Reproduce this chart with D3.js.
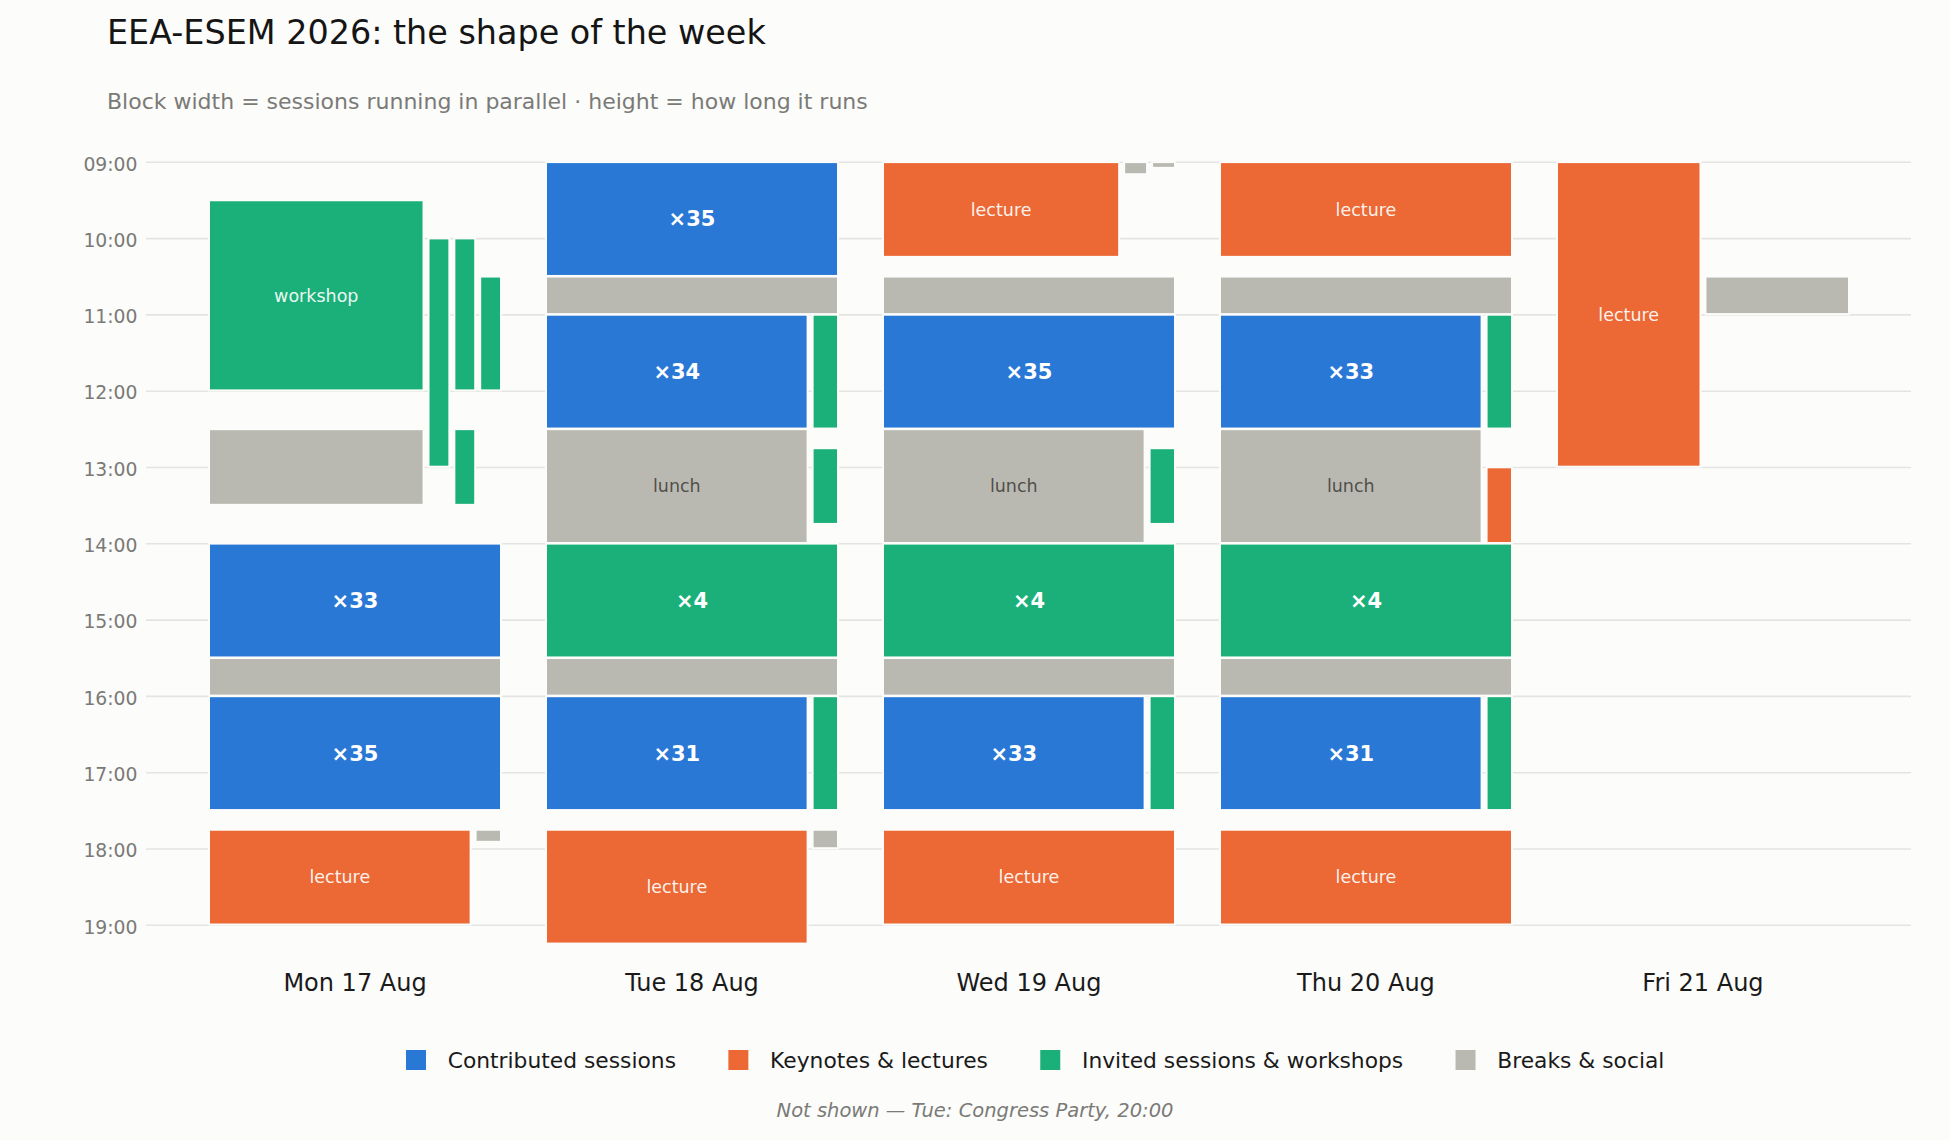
<!DOCTYPE html>
<html><head><meta charset="utf-8">
<script src="https://cdn.jsdelivr.net/npm/d3@7"></script>
<style>
html,body{margin:0;padding:0;background:#fcfcfb;}
svg{display:block;font-family:"DejaVu Sans",sans-serif;}
</style>
</head><body>
<svg id="chart" width="1950" height="1140"></svg>
<script>
// ---------------- data ----------------
const days = ["Mon 17 Aug", "Tue 18 Aug", "Wed 19 Aug", "Thu 20 Aug", "Fri 21 Aug"];
const categories = ["contrib", "keynote", "invited", "break"];
const categoryNames = ["Contributed sessions", "Keynotes & lectures", "Invited sessions & workshops", "Breaks & social"];
const hourTicks = ["09:00","10:00","11:00","12:00","13:00","14:00","15:00","16:00","17:00","18:00","19:00"];
const footnote = "Not shown \u2014 Tue: Congress Party, 20:00";

const monEvents = [
  {from:"09:30", to:"12:00", cat:"invited", label:"workshop"},
  {from:"10:00", to:"13:00", cat:"invited", track:"side"},
  {from:"10:00", to:"12:00", cat:"invited", track:"side"},
  {from:"10:30", to:"12:00", cat:"invited", track:"side"},
  {from:"12:30", to:"13:30", cat:"break"},
  {from:"12:30", to:"13:30", cat:"invited", track:"side"},
  {from:"14:00", to:"15:30", cat:"contrib", n:33},
  {from:"15:30", to:"16:00", cat:"break"},
  {from:"16:00", to:"17:30", cat:"contrib", n:35},
  {from:"17:45", to:"19:00", cat:"keynote", label:"lecture"},
  {from:"17:45", to:"17:55", cat:"break", track:"side"}
];
const tueEvents = [
  {from:"09:00", to:"10:30", cat:"contrib", n:35},
  {from:"10:30", to:"11:00", cat:"break"},
  {from:"11:00", to:"12:30", cat:"contrib", n:34},
  {from:"11:00", to:"12:30", cat:"invited", track:"side"},
  {from:"12:30", to:"14:00", cat:"break", label:"lunch"},
  {from:"12:45", to:"13:45", cat:"invited", track:"side"},
  {from:"14:00", to:"15:30", cat:"invited", n:4},
  {from:"15:30", to:"16:00", cat:"break"},
  {from:"16:00", to:"17:30", cat:"contrib", n:31},
  {from:"16:00", to:"17:30", cat:"invited", track:"side"},
  {from:"17:45", to:"19:15", cat:"keynote", label:"lecture"},
  {from:"17:45", to:"18:00", cat:"break", track:"side"}
];
const wedEvents = [
  {from:"09:00", to:"10:15", cat:"keynote", label:"lecture"},
  {from:"09:00", to:"09:10", cat:"break", track:"side"},
  {from:"09:00", to:"09:05", cat:"break", track:"side"},
  {from:"10:30", to:"11:00", cat:"break"},
  {from:"11:00", to:"12:30", cat:"contrib", n:35},
  {from:"12:30", to:"14:00", cat:"break", label:"lunch"},
  {from:"12:45", to:"13:45", cat:"invited", track:"side"},
  {from:"14:00", to:"15:30", cat:"invited", n:4},
  {from:"15:30", to:"16:00", cat:"break"},
  {from:"16:00", to:"17:30", cat:"contrib", n:33},
  {from:"16:00", to:"17:30", cat:"invited", track:"side"},
  {from:"17:45", to:"19:00", cat:"keynote", label:"lecture"}
];
const thuEvents = [
  {from:"09:00", to:"10:15", cat:"keynote", label:"lecture"},
  {from:"10:30", to:"11:00", cat:"break"},
  {from:"11:00", to:"12:30", cat:"contrib", n:33},
  {from:"11:00", to:"12:30", cat:"invited", track:"side"},
  {from:"12:30", to:"14:00", cat:"break", label:"lunch"},
  {from:"13:00", to:"14:00", cat:"keynote", track:"side"},
  {from:"14:00", to:"15:30", cat:"invited", n:4},
  {from:"15:30", to:"16:00", cat:"break"},
  {from:"16:00", to:"17:30", cat:"contrib", n:31},
  {from:"16:00", to:"17:30", cat:"invited", track:"side"},
  {from:"17:45", to:"19:00", cat:"keynote", label:"lecture"}
];
const friEvents = [
  {from:"09:00", to:"13:00", cat:"keynote", label:"lecture"},
  {from:"10:30", to:"11:00", cat:"break"}
];
const eventsByDay = [monEvents, tueEvents, wedEvents, thuEvents, friEvents];

// ---------------- style ----------------
const BG = "#fcfcfb";
const colors = {contrib:"#2978d6", keynote:"#ec6935", invited:"#1bb07a", break:"#bab9b1"};
const MAIN_W = 10.3, LANE_GAP = 5;

const svg = d3.select("#chart");
svg.append("rect").attr("width",1950).attr("height",1140).attr("fill",BG);

const toH = s => { const [h,m] = s.split(":").map(Number); return h + m/60; };

const x = d3.scaleBand().domain(days).range([147, 1911]).paddingInner(0.1335).paddingOuter(0.184);
const y = d3.scaleLinear().domain([toH(hourTicks[0]), toH(hourTicks[hourTicks.length-1])]).range([162.3, 925.3]);

// title
svg.append("text").attr("x",107).attr("y",44).attr("font-size",33.4).attr("fill","#151515")
  .text("EEA-ESEM 2026: the shape of the week");
svg.append("text").attr("x",107).attr("y",109).attr("font-size",22).attr("fill","#7a7a76")
  .text("Block width = sessions running in parallel \u00b7 height = how long it runs");

// grid + y ticks
const grid = svg.append("g");
hourTicks.forEach(t => {
  const yy = y(toH(t));
  grid.append("line").attr("x1",146).attr("x2",1911).attr("y1",yy).attr("y2",yy)
    .attr("stroke","#e4e4e2").attr("stroke-width",1.6);
  grid.append("text").attr("x",137.5).attr("y",yy).attr("dy","0.44em").attr("text-anchor","end")
    .attr("font-size",18.8).attr("fill","#7a7a76").text(t);
});

// day labels
days.forEach(d => {
  svg.append("text").attr("x", x(d) + x.bandwidth()/2).attr("y", 991).attr("text-anchor","middle")
    .attr("font-size",24).attr("fill","#1a1a1a").text(d);
});

// layout each day: clusters of overlapping events, greedy lanes
const blocks = [];
eventsByDay.forEach((evts, di) => {
  const day = days[di];
  const band = x.bandwidth();
  const es = evts.map((d,i) => ({...d, s:toH(d.from), e:toH(d.to), i, day}))
    .sort((a,b) => a.s - b.s || a.i - b.i);
  const clusters = [];
  let cur = null, curEnd = -Infinity;
  es.forEach(ev => {
    if (!cur || ev.s >= curEnd) { cur = []; clusters.push(cur); curEnd = ev.e; }
    else curEnd = Math.max(curEnd, ev.e);
    cur.push(ev);
  });
  clusters.forEach(cl => {
    const laneEnds = [], laneMain = [];
    cl.forEach(ev => {
      let k = laneEnds.findIndex(end => end <= ev.s);
      if (k < 0) { k = laneEnds.length; laneEnds.push(0); laneMain.push(false); }
      laneEnds[k] = ev.e;
      if (ev.track !== "side") laneMain[k] = true;
      ev.lane = k;
    });
    const weights = laneMain.map(m => m ? MAIN_W : 1);
    const total = d3.sum(weights);
    const avail = band - LANE_GAP * (weights.length - 1);
    const wScale = d3.scaleLinear().domain([0, total]).range([0, avail]);
    const offs = d3.cumsum([0, ...weights]);
    cl.forEach(ev => {
      ev.x0 = x(day) + wScale(offs[ev.lane]) + ev.lane * LANE_GAP;
      ev.w = wScale(weights[ev.lane]);
      blocks.push(ev);
    });
  });
});

const vis = d => ({
  x: d.x0 + 1, w: d.w - 2,
  y: y(d.s) + 0.8, h: y(d.e) - y(d.s) - 2.6
});

// halos over gridlines
svg.append("g").selectAll("rect").data(blocks).join("rect")
  .attr("x", d => vis(d).x - 2).attr("y", d => vis(d).y - 2)
  .attr("width", d => vis(d).w + 4).attr("height", d => vis(d).h + 4)
  .attr("fill", BG);

svg.append("g").selectAll("rect").data(blocks).join("rect")
  .attr("x", d => vis(d).x).attr("y", d => vis(d).y)
  .attr("width", d => vis(d).w).attr("height", d => vis(d).h)
  .attr("fill", d => colors[d.cat]);

// labels
const lab = blocks.filter(d => d.n != null || d.label);
svg.append("g").selectAll("text").data(lab).join("text")
  .attr("x", d => d.x0 + d.w/2)
  .attr("y", d => (y(d.s) + y(d.e))/2)
  .attr("dy", "0.33em")
  .attr("text-anchor", "middle")
  .attr("font-size", d => d.n != null ? 21 : 17.5)
  .attr("font-weight", d => d.n != null ? "bold" : "normal")
  .attr("fill", d => d.cat === "break" ? "#454540" : "#ffffff")
  .attr("fill-opacity", d => d.n != null ? 1 : 0.93)
  .text(d => d.n != null ? "\u00d7" + d.n : d.label);

// legend
const leg = svg.append("g");
let lx = 406;
categories.forEach((c, i) => {
  leg.append("rect").attr("x", lx).attr("y", 1050).attr("width", 20).attr("height", 20).attr("fill", colors[c]);
  const t = leg.append("text").attr("x", lx + 41.7).attr("y", 1068).attr("font-size", 21.8)
    .attr("fill", "#1a1a1a").text(categoryNames[i]);
  lx += 41.7 + t.node().getComputedTextLength() + 52.3;
});

svg.append("text").attr("x", 975).attr("y", 1116.5).attr("text-anchor","middle")
  .attr("font-size", 19.5).attr("font-style","italic").attr("fill","#7a7a76").text(footnote);
</script>
</body></html>
